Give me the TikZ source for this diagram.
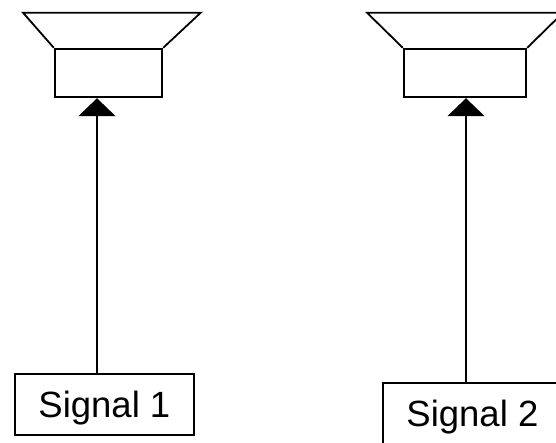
\documentclass[tikz,border=0pt]{standalone}
\usepackage{fontspec}
\setmainfont{Liberation Sans}
\usetikzlibrary{arrows.meta}
\begin{document}
\begin{tikzpicture}[x=1pt,y=-1pt,
    box/.style = {draw, line width=2.4pt, minimum width=179pt, minimum height=61pt,
                  inner sep=0pt, text depth=0pt, font=\fontsize{36.5}{43}\selectfont},
    cone/.style = {draw, line width=2.4pt, minimum width=#1, minimum height=48pt, inner sep=0pt},
    feed/.style = {line width=1.6pt, -{Triangle[length=18pt,width=37pt]}}]
      \clip (0,0) rectangle (556,442);
      % first speaker
      \node[cone=107pt] at (108.5,73) (L1) {};
      \draw[line width=1.8pt] (L1.north west) -- (23,12.7) -- (200.7,12.7) -- (L1.north east);
      % second speaker
      \node[cone=122pt] at (465,73) (L2) {};
      \draw[line width=1.8pt] (L2.north west) -- (367,12.7) -- (563,12.7) -- (L2.north east);
      % signals
      \node[box] at (104.4,404.5) (S1) {Signal 1};
      \node[box] at (472.4,413.5) (S2) {Signal 2};
      \coordinate (A1) at (97,374);
      \coordinate (A2) at (466,383);
      \draw[feed] (A1) -- (A1 |- L1.south);
      \draw[feed] (A2) -- (A2 |- L2.south);
    \end{tikzpicture}
\end{document}
